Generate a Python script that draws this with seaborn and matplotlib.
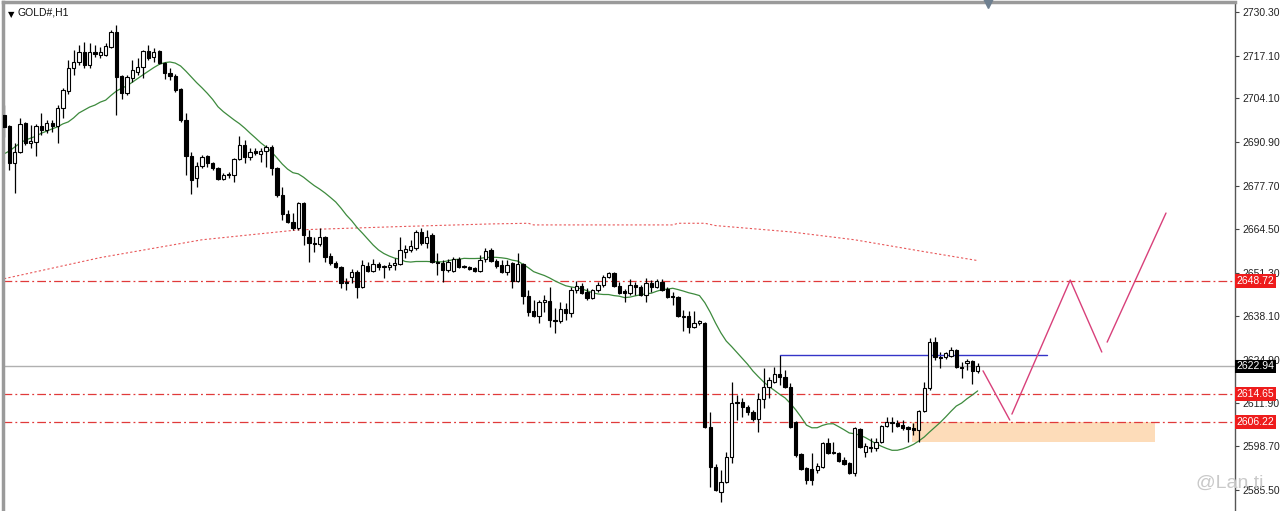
import numpy as np
import pandas as pd
import matplotlib
matplotlib.use("Agg")
import matplotlib.pyplot as plt
from matplotlib.patches import Rectangle
import seaborn as sns

sns.set_theme(style="white")
plt.rcParams['font.family'] = ['Liberation Sans', 'DejaVu Sans']

# ---------------- data (GOLD#, H1) ----------------
opens = [
    2699.1, 2695.8, 2684.6, 2687.9, 2696.7, 2690.6, 2690.9, 2695.8, 2694.6, 2696.7,
    2695.8, 2701.2, 2706.4, 2713.3, 2715.2, 2718.2, 2714.2, 2718.2, 2717.3, 2717.3,
    2719.7, 2724.2, 2710.9, 2705.8, 2710.3, 2712.1, 2713.6, 2718.5, 2716.7, 2718.5,
    2714.9, 2711.8, 2710.9, 2707.0, 2697.6, 2686.7, 2680.0, 2683.6, 2686.7, 2684.6,
    2683.0, 2679.7, 2681.2, 2680.9, 2685.8, 2690.0, 2686.4, 2688.2, 2687.3, 2688.2,
    2689.4, 2683.0, 2674.9, 2669.1, 2666.7, 2664.9, 2672.4, 2662.2, 2660.3, 2660.0,
    2662.2, 2656.4, 2654.3, 2653.1, 2648.5, 2650.0, 2651.5, 2647.0, 2653.4, 2651.8,
    2654.0, 2653.1, 2653.1, 2653.7, 2654.0, 2657.6, 2658.2, 2658.8, 2663.7, 2660.3,
    2662.8, 2654.6, 2654.3, 2652.1, 2651.8, 2655.5, 2653.4, 2653.1, 2652.8, 2651.8,
    2655.5, 2658.2, 2654.9, 2653.7, 2651.5, 2654.3, 2648.8, 2654.0, 2644.3, 2639.7,
    2638.2, 2642.5, 2642.8, 2637.0, 2636.7, 2640.3, 2639.1, 2646.1, 2647.3, 2645.5,
    2643.7, 2646.1, 2647.6, 2650.0, 2651.2, 2647.3, 2645.8, 2645.2, 2647.6, 2647.0,
    2644.6, 2648.2, 2647.0, 2648.5, 2646.4, 2644.3, 2644.0, 2637.9, 2638.2, 2634.9,
    2636.1, 2636.1, 2604.6, 2592.5, 2584.9, 2587.9, 2595.5, 2612.2, 2612.2, 2610.6,
    2609.1, 2607.0, 2613.1, 2616.7, 2618.2, 2620.6, 2619.7, 2616.7, 2606.1, 2596.4,
    2592.2, 2591.9, 2591.6, 2592.5, 2599.8, 2597.0, 2596.7, 2594.6, 2593.7, 2590.7,
    2604.0, 2597.0, 2598.5, 2598.2, 2600.1, 2604.9, 2606.1, 2605.8, 2605.2, 2604.6,
    2604.3, 2603.7, 2609.4, 2616.4, 2630.3, 2625.8, 2625.8, 2626.1, 2627.9, 2622.8,
    2624.0, 2624.6, 2621.6]
highs = [
    2702.1, 2696.1, 2690.6, 2698.2, 2697.0, 2696.1, 2696.4, 2699.7, 2697.6, 2697.6,
    2702.1, 2707.3, 2715.8, 2718.8, 2720.3, 2721.2, 2720.9, 2720.3, 2719.7, 2720.9,
    2724.8, 2726.4, 2711.2, 2711.2, 2715.8, 2716.4, 2718.8, 2720.3, 2719.4, 2718.8,
    2715.2, 2713.3, 2711.5, 2707.3, 2699.7, 2687.9, 2684.9, 2687.0, 2687.0, 2684.9,
    2683.3, 2681.5, 2681.8, 2686.1, 2692.7, 2691.5, 2689.1, 2689.1, 2689.1, 2690.0,
    2690.0, 2683.3, 2677.3, 2670.3, 2669.4, 2672.7, 2672.7, 2664.3, 2662.2, 2664.9,
    2662.5, 2657.3, 2654.9, 2653.4, 2649.7, 2652.5, 2652.1, 2655.2, 2654.6, 2655.5,
    2654.6, 2653.7, 2654.6, 2655.8, 2662.2, 2659.7, 2661.2, 2664.3, 2664.9, 2664.3,
    2663.4, 2657.3, 2655.2, 2655.5, 2656.1, 2656.1, 2653.7, 2653.4, 2653.1, 2656.7,
    2658.8, 2658.8, 2655.5, 2655.2, 2655.2, 2654.6, 2657.3, 2654.3, 2646.1, 2643.1,
    2643.1, 2644.6, 2647.0, 2640.6, 2642.5, 2642.1, 2647.0, 2648.8, 2648.2, 2646.7,
    2646.4, 2648.5, 2650.6, 2651.5, 2651.5, 2648.5, 2646.4, 2649.4, 2648.5, 2647.6,
    2649.7, 2649.1, 2649.4, 2649.4, 2647.0, 2645.5, 2644.3, 2640.0, 2639.7, 2639.7,
    2637.0, 2636.4, 2609.1, 2593.4, 2591.6, 2597.0, 2618.2, 2614.3, 2613.4, 2611.3,
    2609.7, 2614.9, 2622.5, 2619.7, 2622.8, 2626.4, 2621.9, 2617.9, 2606.4, 2596.7,
    2592.5, 2596.7, 2593.7, 2600.1, 2601.3, 2600.1, 2597.0, 2595.5, 2594.0, 2604.6,
    2604.3, 2599.8, 2601.3, 2601.3, 2605.2, 2607.6, 2607.6, 2606.7, 2606.7, 2604.9,
    2605.8, 2609.7, 2618.2, 2631.6, 2631.9, 2627.3, 2627.3, 2628.8, 2628.2, 2624.3,
    2625.2, 2624.9, 2624.0]
lows = [
    2692.4, 2682.4, 2675.5, 2687.6, 2690.0, 2689.1, 2686.7, 2693.0, 2693.6, 2693.9,
    2690.6, 2698.2, 2705.5, 2711.2, 2714.2, 2713.3, 2713.3, 2716.7, 2716.4, 2717.0,
    2719.4, 2699.1, 2704.0, 2705.2, 2709.1, 2711.2, 2710.3, 2715.8, 2715.2, 2714.5,
    2710.0, 2709.7, 2706.1, 2697.0, 2680.9, 2675.2, 2677.3, 2683.0, 2683.3, 2682.4,
    2679.4, 2679.4, 2680.0, 2678.8, 2685.5, 2684.6, 2685.5, 2687.0, 2684.9, 2683.3,
    2680.9, 2674.3, 2667.3, 2666.4, 2664.3, 2664.3, 2659.7, 2654.6, 2657.6, 2659.4,
    2654.6, 2653.7, 2652.8, 2646.7, 2646.1, 2648.2, 2643.7, 2646.7, 2651.5, 2651.5,
    2652.1, 2649.7, 2652.1, 2652.1, 2653.7, 2655.8, 2657.6, 2658.2, 2659.7, 2658.8,
    2654.3, 2650.6, 2648.5, 2651.5, 2651.5, 2652.8, 2652.8, 2652.1, 2651.5, 2651.5,
    2654.6, 2654.6, 2652.8, 2651.2, 2650.6, 2646.7, 2648.5, 2641.8, 2638.2, 2637.9,
    2636.1, 2639.4, 2634.9, 2633.1, 2636.1, 2637.0, 2637.9, 2645.2, 2644.9, 2643.1,
    2643.4, 2645.5, 2647.0, 2649.7, 2647.0, 2644.9, 2642.5, 2644.6, 2644.6, 2644.3,
    2642.5, 2645.5, 2646.7, 2645.8, 2643.7, 2641.5, 2637.9, 2633.7, 2633.1, 2634.6,
    2635.5, 2604.3, 2586.4, 2585.2, 2581.9, 2587.6, 2593.7, 2606.7, 2607.6, 2608.2,
    2606.4, 2603.1, 2610.3, 2613.4, 2617.9, 2617.3, 2616.4, 2604.3, 2595.5, 2591.6,
    2587.3, 2587.0, 2590.7, 2592.2, 2596.4, 2596.4, 2594.0, 2593.1, 2590.4, 2589.8,
    2598.2, 2595.5, 2597.0, 2597.3, 2599.8, 2604.6, 2603.1, 2604.6, 2603.7, 2600.1,
    2602.2, 2600.1, 2609.1, 2615.8, 2624.9, 2622.5, 2625.2, 2625.8, 2622.5, 2619.4,
    2621.9, 2617.6, 2621.0]
closes = [
    2695.5, 2684.6, 2687.9, 2696.4, 2690.6, 2691.2, 2695.8, 2694.6, 2696.7, 2695.8,
    2701.2, 2706.7, 2713.3, 2715.2, 2718.2, 2714.2, 2718.2, 2717.6, 2718.2, 2720.0,
    2724.2, 2710.6, 2705.8, 2710.6, 2712.7, 2713.6, 2718.5, 2716.4, 2718.2, 2714.9,
    2711.8, 2710.9, 2706.7, 2697.6, 2686.7, 2679.4, 2683.6, 2686.4, 2684.6, 2683.0,
    2679.7, 2680.9, 2680.9, 2685.8, 2690.0, 2686.4, 2687.9, 2687.6, 2688.2, 2689.4,
    2683.0, 2674.9, 2669.1, 2666.7, 2664.9, 2672.4, 2662.8, 2660.3, 2660.0, 2662.2,
    2656.1, 2654.3, 2653.1, 2648.2, 2648.2, 2651.5, 2647.0, 2653.7, 2651.8, 2654.0,
    2653.1, 2653.4, 2653.7, 2654.3, 2658.2, 2658.5, 2659.4, 2663.7, 2660.3, 2662.2,
    2654.6, 2654.3, 2652.1, 2654.6, 2655.5, 2653.1, 2653.1, 2652.5, 2651.8, 2655.2,
    2657.9, 2654.9, 2653.4, 2651.5, 2653.7, 2648.8, 2654.0, 2644.3, 2639.4, 2638.2,
    2642.5, 2643.1, 2637.0, 2636.7, 2640.3, 2639.1, 2646.1, 2647.3, 2645.2, 2643.7,
    2646.1, 2647.6, 2650.0, 2651.2, 2647.3, 2645.2, 2645.2, 2647.6, 2647.0, 2644.6,
    2648.2, 2647.0, 2648.8, 2646.1, 2644.0, 2644.0, 2638.2, 2638.2, 2634.9, 2636.1,
    2636.7, 2604.6, 2592.5, 2585.5, 2587.9, 2595.5, 2611.9, 2611.9, 2610.6, 2609.1,
    2607.0, 2613.1, 2616.7, 2618.8, 2620.6, 2619.7, 2616.7, 2604.6, 2596.1, 2591.9,
    2588.5, 2588.5, 2592.8, 2599.8, 2596.7, 2596.7, 2594.3, 2593.4, 2590.7, 2604.3,
    2598.5, 2598.8, 2598.2, 2600.1, 2604.9, 2606.1, 2605.8, 2604.9, 2604.3, 2604.0,
    2603.7, 2609.4, 2616.4, 2630.3, 2625.8, 2625.5, 2627.0, 2627.9, 2622.8, 2622.5,
    2624.6, 2621.6, 2622.94]

# green MA (20) values for the first bars
ma20_head = [2687.3, 2688.2, 2689.4, 2690.6, 2691.5, 2692.1, 2692.7, 2693.6, 2694.2,
             2694.9, 2695.5, 2696.4, 2697.0, 2698.2, 2699.7, 2700.6, 2701.5, 2702.1, 2703.0]

# slow red dotted MA, read at bar positions
slow_ma_bar = [0, 18, 37, 55, 74, 91, 98, 99, 125, 126, 131, 133, 147, 159, 172, 182]
slow_ma_val = [2649.5, 2655.9, 2661.3, 2664.3, 2665.3, 2666.1, 2666.3, 2665.8, 2665.8,
               2666.3, 2666.3, 2665.6, 2663.7, 2661.3, 2657.7, 2655.0]

# horizontal levels
red_levels = [2648.72, 2614.65, 2606.22]
bid_price = 2622.94

# blue resistance segment
blue_bar = [145, 195]
blue_price = [2626.4, 2626.4]

# supply/demand zone
zone_bar = [169.7, 215.1]
zone_price = [2600.0, 2606.22]

# projected path (pink)
path1_bar = [183.0, 188.0]
path1_price = [2621.6, 2606.7]
path2_bar = [188.4, 199.3, 205.2]
path2_price = [2608.5, 2649.1, 2627.3]
path3_bar = [206.2, 217.2]
path3_price = [2630.3, 2669.4]

yticks = [2730.30, 2717.10, 2704.10, 2690.90, 2677.70, 2664.50, 2651.30,
          2638.10, 2624.90, 2611.90, 2598.70, 2585.50]

# ---------------- frame ----------------
n = len(closes)
df = pd.DataFrame(dict(bar=np.arange(n), open=opens, high=highs, low=lows, close=closes))
sma = df['close'].rolling(20).mean().to_numpy()
sma[:19] = ma20_head
df['ma20'] = sma
slow_df = pd.DataFrame(dict(bar=slow_ma_bar, ma=slow_ma_val))

fig = plt.figure(figsize=(12.8, 5.11), dpi=100)
fig.patch.set_facecolor('white')
ax = fig.add_axes([3 / 1280, 0, 1232 / 1280, 509 / 511])
ax.set_facecolor('white')
ax.set_xlim(-0.19, 230.1)
ax.set_ylim(2579.15, 2733.32)

# zone
ax.add_patch(Rectangle((zone_bar[0], zone_price[0]), zone_bar[1] - zone_bar[0],
                       zone_price[1] - zone_price[0], facecolor='#fddcb9',
                       edgecolor='none', zorder=0.5))

# level lines
for lv in red_levels:
    ax.axhline(lv, color='#e03a3a', lw=0.9, ls=(0, (7, 2.5, 1.5, 2.5)), zorder=1)
ax.axhline(bid_price, color='#b0b0b0', lw=1.0, zorder=1)

# slow MA
sns.lineplot(data=slow_df, x='bar', y='ma', ax=ax, color='#e8585a', lw=0.8,
             linestyle=(0, (2, 2)), zorder=1.5, legend=False)
# fast MA
sns.lineplot(data=df, x='bar', y='ma20', ax=ax, color='#3d8a3d', lw=0.9,
             zorder=1.6, legend=False)

# candles
o = df['open'].to_numpy(); c = df['close'].to_numpy()
up = c >= o
ax.vlines(df['bar'], df['low'], df['high'], color='black', lw=0.9, zorder=2)
body_lo = np.minimum(o, c)
body_h = np.maximum(np.abs(c - o), 0.35)
ax.bar(df['bar'], body_h, bottom=body_lo, width=0.62,
       color=np.where(up, 'white', 'black'), edgecolor='black', linewidth=0.8, zorder=3)

# blue line
ax.plot(blue_bar, blue_price, color='#3434c8', lw=1.0, zorder=2.5)

# projection
for bx, by in [(path1_bar, path1_price), (path2_bar, path2_price), (path3_bar, path3_price)]:
    ax.plot(bx, by, color='#d8407a', lw=1.0, zorder=2.5)

# axes styling
ax.set_xticks([])
ax.yaxis.tick_right()
ax.set_yticks(yticks)
ax.set_yticklabels([f"{t:.2f}" for t in yticks])
ax.tick_params(axis='y', direction='out', length=3, width=0.8, color='#444444',
               labelsize=7.5, labelcolor='#222222', pad=2)
ax.set_ylabel('')
ax.set_xlabel('')
for side in ['left', 'top']:
    ax.spines[side].set_visible(True)
    ax.spines[side].set_color('#9a9a9a')
    ax.spines[side].set_linewidth(2.5)
ax.spines['right'].set_color('#555555')
ax.spines['right'].set_linewidth(1.0)
ax.spines['bottom'].set_visible(False)

# price tags on the axis
tr = ax.get_yaxis_transform()
for lv in red_levels:
    ax.text(1.0012, lv, f"{lv:.2f}", transform=tr, ha='left', va='center', fontsize=7.5,
            color='white', clip_on=False, zorder=10,
            bbox=dict(boxstyle='square,pad=0.18', fc='#ee1c1c', ec='none'))
ax.text(1.0012, bid_price, f"{bid_price:.2f}", transform=tr, ha='left', va='center',
        fontsize=7.5, color='white', clip_on=False, zorder=10,
        bbox=dict(boxstyle='square,pad=0.18', fc='black', ec='none'))

# title & markers
ax.text(0.004, 0.985, '\u25BC', transform=ax.transAxes, fontsize=6, color='black',
        ha='left', va='top', family=['DejaVu Sans'])
ax.text(0.0115, 0.99, 'GOLD#,H1', transform=ax.transAxes, fontsize=7.5, color='#111111',
        ha='left', va='top')
ax.plot([184], [2733.32], marker='v', color='#6f8090', ms=8, clip_on=False, zorder=11)

# watermark
fig.text(1196 / 1280, 1 - 483 / 511, '@Lan ti', color='#c9c9c9', fontsize=14,
         ha='left', va='center')

fig.savefig('out.png', dpi=100)
